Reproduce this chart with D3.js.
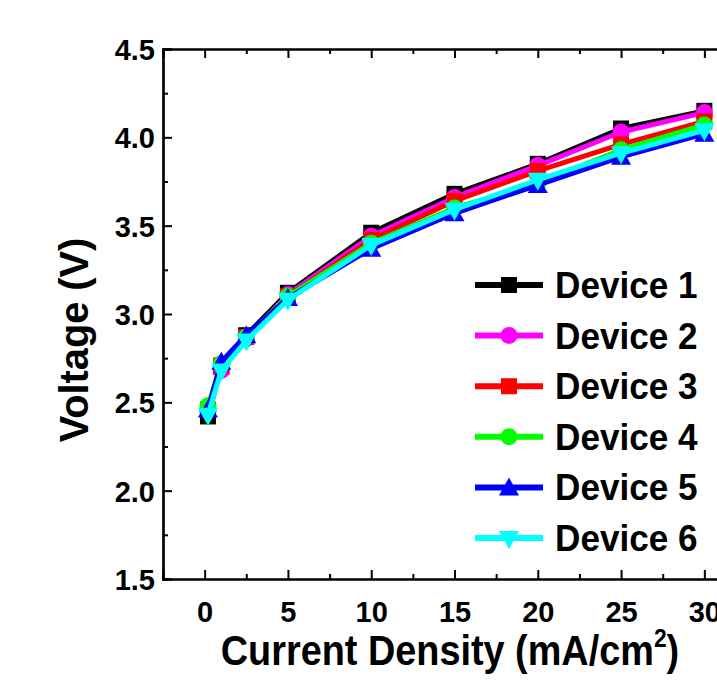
<!DOCTYPE html>
<html><head><meta charset="utf-8">
<script src="https://cdn.jsdelivr.net/npm/d3@7"></script>
<style>body{margin:0;background:#fff}svg{display:block}text{font-family:"Liberation Sans",Arial,sans-serif;font-weight:bold}</style>
</head><body>
<script>
const currentDensity = [0.2, 1, 2.5, 5, 10, 15, 20, 25, 30];
const device1 = [2.42, 2.70, 2.88, 3.12, 3.46, 3.68, 3.85, 4.05, 4.15];
const device2 = [2.45, 2.68, 2.86, 3.11, 3.44, 3.66, 3.84, 4.03, 4.14];
const device3 = [2.46, 2.71, 2.87, 3.10, 3.42, 3.64, 3.81, 3.96, 4.09];
const device4 = [2.48, 2.72, 2.87, 3.10, 3.40, 3.60, 3.74, 3.93, 4.07];
const device5 = [2.46, 2.73, 2.88, 3.09, 3.37, 3.57, 3.73, 3.89, 4.02];
const device6 = [2.43, 2.68, 2.85, 3.08, 3.39, 3.59, 3.76, 3.91, 4.04];
const seriesNames = ["Device 1","Device 2","Device 3","Device 4","Device 5","Device 6"];
const seriesColors = ["#000000","#ff00ff","#ff0000","#00ff00","#0000ff","#00ffff"];
const seriesSymbols = ["square","circle","square","circle","triangleUp","triangleDown"];
const xTicks = [0,5,10,15,20,25,30];
const yTicks = [1.5,2.0,2.5,3.0,3.5,4.0,4.5];
const allSeries = [device1,device2,device3,device4,device5,device6];

const W=717,H=681;
const svg=d3.select("body").append("svg").attr("width",W).attr("height",H);
const x=d3.scaleLinear().domain([-2.5,32.5]).range([163,746]);
const y=d3.scaleLinear().domain([1.5,4.5]).range([579,49]);

function sym(g,type,cx,cy,color){
  if(type==="square") g.append("rect").attr("x",cx-8).attr("y",cy-8).attr("width",16).attr("height",16).attr("fill",color);
  else if(type==="circle") g.append("circle").attr("cx",cx).attr("cy",cy).attr("r",8.5).attr("fill",color);
  else if(type==="triangleUp") g.append("path").attr("d",`M${cx},${cy-10}L${cx+10},${cy+8}L${cx-10},${cy+8}Z`).attr("fill",color);
  else g.append("path").attr("d",`M${cx},${cy+11}L${cx+10},${cy-7}L${cx-10},${cy-7}Z`).attr("fill",color);
}

// axes
const gx=svg.append("g").attr("transform","translate(0,579)")
  .call(d3.axisBottom(x).tickValues(xTicks).tickSize(-9).tickPadding(22).tickFormat(d3.format("d")));
gx.append("g").call(d3.axisBottom(x).tickValues(d3.range(2.5,32.5,5)).tickSize(-5).tickFormat(""));
const gxt=svg.append("g").attr("transform","translate(0,49)")
  .call(d3.axisTop(x).tickValues(xTicks).tickSize(-9).tickFormat(""));
gxt.append("g").call(d3.axisTop(x).tickValues(d3.range(2.5,32.5,5)).tickSize(-5).tickFormat(""));
const gy=svg.append("g").attr("transform","translate(163,0)")
  .call(d3.axisLeft(y).tickValues(yTicks).tickSize(-9).tickPadding(8).tickFormat(d3.format(".1f")));
gy.append("g").call(d3.axisLeft(y).tickValues(d3.range(1.75,4.5,0.5)).tickSize(-5).tickFormat(""));
svg.selectAll(".domain").attr("stroke","#000").attr("stroke-width",2.2);
svg.selectAll(".tick line").attr("stroke","#000").attr("stroke-width",2);
svg.selectAll(".tick text").attr("font-size",29).attr("fill","#000").style("font-weight","bold");
gy.selectAll(".tick text").attr("dy","0.36em");

// series
const line=d3.line().x((d,i)=>x(currentDensity[i])).y(d=>y(d));
allSeries.forEach((s,k)=>{
  const g=svg.append("g");
  g.append("path").attr("d",line(s)).attr("fill","none").attr("stroke",seriesColors[k]).attr("stroke-width",5).attr("stroke-linejoin","round");
  s.forEach((v,i)=>sym(g,seriesSymbols[k],x(currentDensity[i]),y(v),seriesColors[k]));
});

// legend
seriesNames.forEach((n,k)=>{
  const cy=285+k*50.6;
  const g=svg.append("g");
  g.append("line").attr("x1",475).attr("x2",543).attr("y1",cy).attr("y2",cy).attr("stroke",seriesColors[k]).attr("stroke-width",6);
  sym(g,seriesSymbols[k],509,cy,seriesColors[k]);
  g.append("text").attr("transform",`translate(555,${cy+13}) scale(0.95,1)`).attr("font-size",37).attr("fill","#000").text(n);
});

// axis titles
const xt=svg.append("text").attr("transform","translate(450,665) scale(0.88,1)").attr("text-anchor","middle").attr("font-size",43).attr("fill","#000");
xt.append("tspan").text("Current Density (mA/cm");
xt.append("tspan").attr("font-size",26).attr("dy",-18).text("2");
xt.append("tspan").attr("dy",18).text(")");
svg.append("text").attr("transform","translate(88,340) rotate(-90) scale(0.97,1)").attr("text-anchor","middle").attr("font-size",41).attr("fill","#000").text("Voltage (V)");
</script>
</body></html>
